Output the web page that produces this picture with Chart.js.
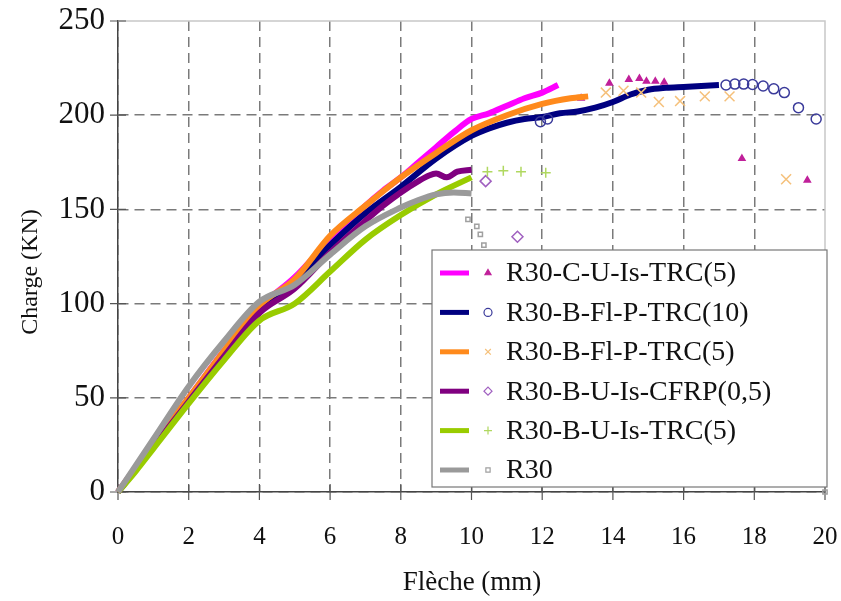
<!DOCTYPE html>
<html>
<head>
<meta charset="utf-8">
<title>Charge - Flèche</title>
<script src="https://cdn.jsdelivr.net/npm/chart.js@4.4.1/dist/chart.umd.min.js"></script>
<style>
  html, body { margin: 0; padding: 0; background: #fff; }
  #chart { display: block; }
</style>
</head>
<body>
<canvas id="chart" width="841" height="601"></canvas>
<script>
// Load (kN) vs deflection (mm) curves

const seriesLabels = ['R30-C-U-Is-TRC(5)', 'R30-B-Fl-P-TRC(10)', 'R30-B-Fl-P-TRC(5)',
	'R30-B-U-Is-CFRP(0,5)', 'R30-B-U-Is-TRC(5)', 'R30'];

const xTicks = [0, 2, 4, 6, 8, 10, 12, 14, 16, 18, 20];
const yTicks = [0, 50, 100, 150, 200, 250];

// R30-C-U-Is-TRC(5)
const cuTrc5X = [0, 0.5, 1, 2, 3, 4, 5, 6, 7, 7.5, 8, 8.5, 9, 9.5, 10, 10.5, 11, 11.5, 12, 12.45];
const cuTrc5Y = [0, 13, 26, 50, 75, 98, 114, 134, 152, 160, 167, 175, 183, 191, 198, 201, 205, 209, 212, 216];
const cuTrc5TailX = [13.1, 13.9, 14.45, 14.75, 14.95, 15.2, 15.45, 17.65, 19.5];
const cuTrc5TailY = [209, 217, 219, 219.5, 218, 218, 217.5, 177, 165.5];

// R30-B-Fl-P-TRC(10)
const flTrc10X = [0, 0.5, 1, 2, 3, 4, 5, 6, 7, 8, 9, 10, 10.5, 11, 11.5, 12, 12.5, 13, 13.5, 14, 14.5, 15, 15.5, 16, 16.5, 17];
const flTrc10Y = [0, 12, 25, 49, 74, 97, 112, 131, 148, 162, 177, 189, 193, 196, 198, 199, 201, 202, 204, 207, 211, 213.5, 214.5, 215, 215.5, 216];
const flTrc10TailX = [11.95, 12.15, 17.2, 17.45, 17.7, 17.95, 18.25, 18.55, 18.85, 19.25, 19.75];
const flTrc10TailY = [196.5, 198, 216, 216.5, 216.5, 216.3, 215.5, 214, 212, 204, 198];

// R30-B-Fl-P-TRC(5)
const flTrc5X = [0, 0.5, 1, 2, 3, 4, 5, 6, 7, 8, 9, 10, 11, 12, 12.8, 13.3];
const flTrc5Y = [0, 13, 26, 50, 75, 99, 113, 136, 152, 167, 180, 192, 200, 206, 209, 210];
const flTrc5TailX = [13.8, 14.3, 14.8, 15.3, 15.9, 16.6, 17.3, 18.9];
const flTrc5TailY = [212, 213, 212, 207, 207.5, 210, 210, 166];

// R30-B-U-Is-CFRP(0,5)
const cfrpX = [0, 0.5, 1, 2, 3, 4, 5, 6, 7, 7.5, 8, 8.5, 8.8, 9, 9.3, 9.6, 10];
const cfrpY = [0, 12, 24, 48, 72, 95, 108, 127, 144, 152, 159, 165, 168, 169, 167, 170, 171];
const cfrpTailX = [10.4, 11.3];
const cfrpTailY = [165, 135.5];

// R30-B-U-Is-TRC(5)
const uTrc5X = [0, 0.5, 1, 2, 3, 4, 5, 6, 7, 8, 9, 10];
const uTrc5Y = [0, 11, 23, 47, 70, 91, 100, 117, 134, 147, 158, 167];
const uTrc5TailX = [10.45, 10.9, 11.4, 12.1];
const uTrc5TailY = [170, 170.5, 170, 169.5];

// R30 (reference beam)
const r30X = [0, 0.5, 1, 2, 3, 4, 5, 6, 7, 8, 8.5, 9, 9.5, 10];
const r30Y = [0, 14, 28, 56, 80, 101, 110, 126, 141, 151, 155, 158, 159, 158.5];
const r30TailX = [9.9, 10.15, 10.25, 10.35, 20];
const r30TailY = [144.7, 141, 136.7, 131, 0];

const lineColors = ['#ff00ff', '#000080', '#ff8a1c', '#800080', '#99cc00', '#9a9a9a'];
const markColors = ['#c0209a', '#3a3a9a', '#f5c07a', '#a060c0', '#b0d860', '#a0a0a0'];
const markStyles = ['triangle', 'circle', 'crossRot', 'rectRot', 'cross', 'rect'];
const markSizes = [3.5, 5, 7, 5.5, 5, 3];

const curves = [[cuTrc5X, cuTrc5Y], [flTrc10X, flTrc10Y], [flTrc5X, flTrc5Y], [cfrpX, cfrpY], [uTrc5X, uTrc5Y], [r30X, r30Y]];
const tails = [[cuTrc5TailX, cuTrc5TailY], [flTrc10TailX, flTrc10TailY], [flTrc5TailX, flTrc5TailY],
	[cfrpTailX, cfrpTailY], [uTrc5TailX, uTrc5TailY], [r30TailX, r30TailY]];

const pts = (xs, ys) => xs.map((x, i) => ({ x, y: ys[i] }));

const FONT = "'Liberation Serif', 'Times New Roman', serif";

const datasets = [];
seriesLabels.forEach((label, i) => {
	// later series are drawn on top, like the original spreadsheet chart
	datasets.push({
		label,
		data: pts(curves[i][0], curves[i][1]),
		showLine: true,
		borderColor: lineColors[i],
		backgroundColor: lineColors[i],
		borderWidth: 6,
		pointRadius: 0,
		cubicInterpolationMode: 'monotone',
		clip: false,
		order: 20 - i * 2
	});
	datasets.push({
		label: label + ' (tail)',
		data: pts(tails[i][0], tails[i][1]),
		showLine: false,
		pointStyle: markStyles[i],
		pointRadius: markSizes[i],
		pointBorderWidth: 1.5,
		pointBorderColor: markColors[i],
		pointBackgroundColor: markStyles[i] === 'triangle' ? markColors[i] : 'rgba(0,0,0,0)',
		clip: false,
		order: 19 - i * 2
	});
});

// frame, cross tick marks, axis titles and the boxed legend
const decor = {
	id: 'decor',
	beforeDatasetsDraw(chart) {
		const { ctx, chartArea: a, scales: { x, y } } = chart;
		ctx.save();
		ctx.strokeStyle = '#c8c8c8';
		ctx.lineWidth = 1.5;
		ctx.beginPath();
		ctx.moveTo(a.left, a.top);
		ctx.lineTo(a.right, a.top);
		ctx.lineTo(a.right, a.bottom);
		ctx.stroke();
		ctx.strokeStyle = '#555';
		ctx.lineWidth = 1.2;
		ctx.beginPath();
		xTicks.forEach(v => {
			const px = x.getPixelForValue(v);
			ctx.moveTo(px, a.bottom - 8);
			ctx.lineTo(px, a.bottom + 8);
		});
		yTicks.forEach(v => {
			const py = y.getPixelForValue(v);
			ctx.moveTo(a.left - 8, py);
			ctx.lineTo(a.left + 8, py);
		});
		ctx.stroke();
		ctx.restore();
	},
	afterDraw(chart) {
		const { ctx, chartArea: a } = chart;
		ctx.save();
		ctx.fillStyle = '#111';
		ctx.textAlign = 'center';
		ctx.textBaseline = 'middle';
		ctx.font = '27px ' + FONT;
		ctx.fillText('Flèche (mm)', 472, 583);
		ctx.font = '24px ' + FONT;
		ctx.translate(31, 272);
		ctx.rotate(-Math.PI / 2);
		ctx.fillText('Charge (KN)', 0, 0);
		ctx.restore();

		// legend box
		const lx = 432, ly = 250, lw = a.right + 2 - lx, lh = a.bottom - 5 - ly;
		ctx.save();
		ctx.fillStyle = '#fff';
		ctx.fillRect(lx, ly, lw, lh);
		ctx.strokeStyle = '#777';
		ctx.lineWidth = 1.2;
		ctx.strokeRect(lx, ly, lw, lh);
		ctx.font = '28px ' + FONT;
		ctx.textBaseline = 'middle';
		seriesLabels.forEach((label, i) => {
			const cy = ly + 23 + i * 39.4;
			ctx.strokeStyle = lineColors[i];
			ctx.lineWidth = 5;
			ctx.beginPath();
			ctx.moveTo(lx + 8, cy);
			ctx.lineTo(lx + 37, cy);
			ctx.stroke();
			ctx.strokeStyle = markColors[i];
			ctx.fillStyle = markStyles[i] === 'triangle' ? markColors[i] : 'rgba(0,0,0,0)';
			ctx.lineWidth = 1.2;
			Chart.helpers.drawPoint(ctx, { pointStyle: markStyles[i], radius: Math.min(markSizes[i], 4), rotation: 0, borderWidth: 1.2 }, lx + 56, cy);
			ctx.fillStyle = '#111';
			ctx.fillText(label, lx + 74, cy + 1);
		});
		ctx.restore();
	}
};

const gridColor = c => (c.tick && (c.tick.value === 250 || c.tick.value === 20)) ? 'rgba(0,0,0,0)' : '#7a7a7a';

new Chart(document.getElementById('chart'), {
	type: 'scatter',
	data: { datasets },
	options: {
		responsive: false,
		animation: false,
		devicePixelRatio: 1,
		layout: { padding: { top: 21, right: 16, left: 0, bottom: 0 } },
		plugins: { legend: { display: false }, tooltip: { enabled: false } },
		scales: {
			x: {
				type: 'linear', min: 0, max: 20,
				afterBuildTicks: s => { s.ticks = xTicks.map(v => ({ value: v })); },
				afterFit: s => { s.height = 109; s.paddingLeft = 0; s.paddingRight = 0; },
				ticks: { font: { family: FONT, size: 25 }, color: '#111', padding: 30, maxRotation: 0 },
				grid: { color: gridColor, lineWidth: 1.5, drawTicks: false },
				border: { display: true, color: '#444', width: 1.5, dash: [10, 6] }
			},
			y: {
				type: 'linear', min: 0, max: 250,
				afterBuildTicks: s => { s.ticks = yTicks.map(v => ({ value: v })); },
				afterFit: s => { s.width = 118; s.paddingTop = 0; s.paddingBottom = 0; },
				ticks: { font: { family: FONT, size: 31 }, color: '#111', padding: 13 },
				grid: { color: gridColor, lineWidth: 1.5, drawTicks: false },
				border: { display: true, color: '#444', width: 1.5, dash: [10, 6] }
			}
		}
	},
	plugins: [decor]
});
</script>
</body>
</html>
